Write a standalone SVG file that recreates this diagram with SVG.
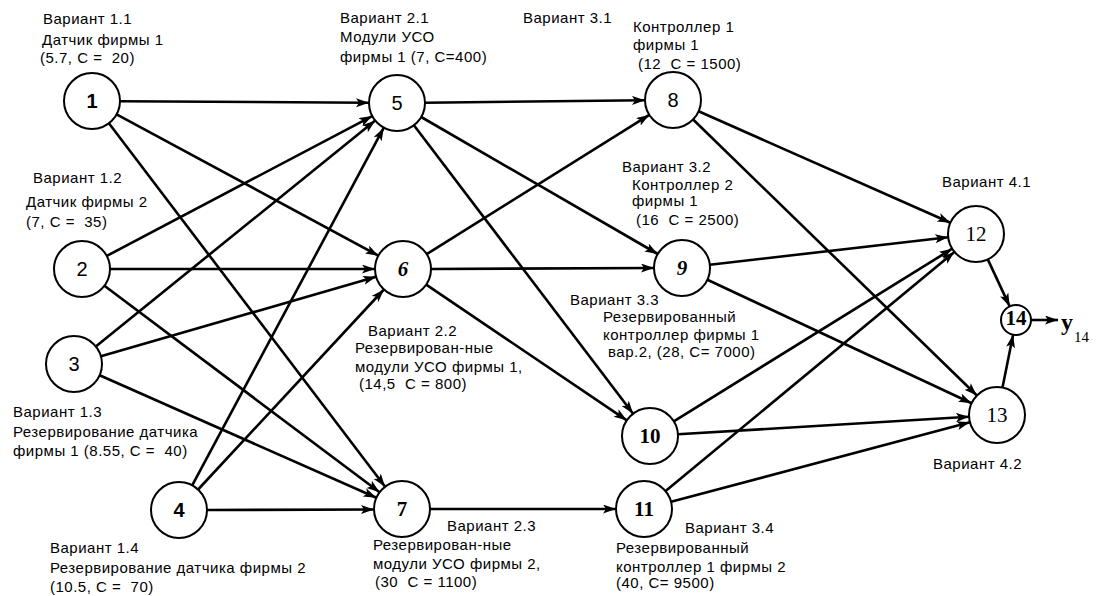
<svg xmlns="http://www.w3.org/2000/svg" width="1098" height="596" viewBox="0 0 1098 596" xml:space="preserve">
<style>
.lbl{font-family:"Liberation Sans",Arial,sans-serif;font-size:15px;letter-spacing:0.5px;fill:#000;white-space:pre}
.e{stroke:#000;stroke-width:2.6;fill:none;marker-end:url(#ah)}
.n{fill:#fff;stroke:#000;stroke-width:2}
.ns{font-family:"Liberation Sans",Arial,sans-serif;font-size:20px;fill:#000;text-anchor:middle}
.nf{font-family:"Liberation Serif","Times New Roman",serif;font-size:21px;fill:#000;text-anchor:middle}
</style>
<defs>
<marker id="ah" markerUnits="userSpaceOnUse" markerWidth="14" markerHeight="10" refX="13" refY="4.5" orient="auto">
<path d="M0,0 L13,4.5 L0,9 L3,4.5 z" fill="#000"/>
</marker>
</defs>
<rect width="1098" height="596" fill="#fff"/>
<g id="connectors">
<line class="e" x1="120" y1="101.2" x2="369" y2="102.8"/>
<line class="e" x1="116.6" y1="114.3" x2="378.4" y2="255.7"/>
<line class="e" x1="108.9" y1="123.3" x2="385.1" y2="486.7"/>
<line class="e" x1="106.8" y1="255.9" x2="372.2" y2="116.1"/>
<line class="e" x1="110" y1="269" x2="375" y2="269"/>
<line class="e" x1="104.4" y1="285.8" x2="379.6" y2="492.2"/>
<line class="e" x1="95.8" y1="346.4" x2="375.2" y2="120.6"/>
<line class="e" x1="100.9" y1="356.2" x2="376.1" y2="276.8"/>
<line class="e" x1="99.6" y1="375.3" x2="376.4" y2="497.7"/>
<line class="e" x1="192.2" y1="485.3" x2="383.8" y2="127.7"/>
<line class="e" x1="198.1" y1="489.5" x2="383.9" y2="289.5"/>
<line class="e" x1="207" y1="510" x2="374" y2="509.5"/>
<line class="e" x1="425" y1="102.7" x2="645" y2="100.3"/>
<line class="e" x1="421.2" y1="117" x2="657.8" y2="254"/>
<line class="e" x1="413.9" y1="125.3" x2="633.1" y2="413.7"/>
<line class="e" x1="426.7" y1="254.1" x2="649.3" y2="114.9"/>
<line class="e" x1="431" y1="269" x2="654" y2="268"/>
<line class="e" x1="426.2" y1="284.7" x2="626.8" y2="420.3"/>
<line class="e" x1="430" y1="509" x2="616" y2="509"/>
<line class="e" x1="698.6" y1="111.3" x2="950.4" y2="222.7"/>
<line class="e" x1="693.1" y1="119.5" x2="976.9" y2="395.5"/>
<line class="e" x1="709.8" y1="264.8" x2="948.2" y2="237.2"/>
<line class="e" x1="707.4" y1="279.8" x2="971.6" y2="403.2"/>
<line class="e" x1="673.8" y1="421.3" x2="952.2" y2="248.7"/>
<line class="e" x1="678" y1="434.3" x2="969.1" y2="416.7"/>
<line class="e" x1="665.6" y1="491.1" x2="954.4" y2="251.9"/>
<line class="e" x1="671.1" y1="501.8" x2="969.9" y2="422.2"/>
<line class="e" x1="987.8" y1="259.4" x2="1009.7" y2="306.4"/>
<line class="e" x1="1002.5" y1="387.6" x2="1013.1" y2="334.7"/>
<line class="e" x1="1031" y1="320" x2="1058" y2="320"/>
</g>
<g id="node1"><circle class="n" cx="92" cy="101" r="28"/><text class="ns" x="92" y="108" font-weight="bold">1</text></g>
<g id="node2"><circle class="n" cx="82" cy="269" r="28"/><text class="ns" x="82" y="276">2</text></g>
<g id="node3"><circle class="n" cx="74" cy="364" r="28"/><text class="ns" x="74" y="371">3</text></g>
<g id="node4"><circle class="n" cx="179" cy="510" r="28"/><text class="ns" x="179" y="517" font-weight="bold">4</text></g>
<g id="node5"><circle class="n" cx="397" cy="103" r="28"/><text class="ns" x="397" y="110">5</text></g>
<g id="node6"><circle class="n" cx="403" cy="269" r="28"/><text class="nf" x="403" y="276" font-style="italic" font-weight="bold">6</text></g>
<g id="node7"><circle class="n" cx="402" cy="509" r="28"/><text class="nf" x="402" y="516" font-weight="bold">7</text></g>
<g id="node8"><circle class="n" cx="673" cy="100" r="28"/><text class="ns" x="673" y="107">8</text></g>
<g id="node9"><circle class="n" cx="682" cy="268" r="28"/><text class="nf" x="682" y="275" font-style="italic" font-weight="bold">9</text></g>
<g id="node10"><circle class="n" cx="650" cy="436" r="28"/><text class="nf" x="650" y="443" font-weight="bold">10</text></g>
<g id="node11"><circle class="n" cx="644" cy="509" r="28"/><text class="nf" x="644" y="516" font-weight="bold">11</text></g>
<g id="node12"><circle class="n" cx="976" cy="234" r="28"/><text class="nf" x="976" y="241">12</text></g>
<g id="node13"><circle class="n" cx="997" cy="415" r="28"/><text class="nf" x="997" y="422">13</text></g>
<g id="node14"><circle class="n" cx="1016" cy="320" r="15" stroke-width="1.5"/><text class="nf" x="1016" y="325" font-size="14" font-weight="bold">14</text></g>
<g id="output"><text x="1061" y="330" font-family="Liberation Serif,serif" font-size="24" font-weight="bold">y</text><text x="1074" y="342" font-family="Liberation Serif,serif" font-size="15">14</text></g>
<g id="labels">
<text class="lbl" x="43" y="24">Вариант 1.1</text>
<text class="lbl" x="42" y="45">Датчик фирмы 1</text>
<text class="lbl" x="40" y="63">(5.7, C =  20)</text>
<text class="lbl" x="33" y="183">Вариант 1.2</text>
<text class="lbl" x="26" y="207">Датчик фирмы 2</text>
<text class="lbl" x="26" y="227">(7, C =  35)</text>
<text class="lbl" x="13" y="417">Вариант 1.3</text>
<text class="lbl" x="13" y="437">Резервирование датчика</text>
<text class="lbl" x="13" y="456">фирмы 1 (8.55, C =  40)</text>
<text class="lbl" x="50" y="553">Вариант 1.4</text>
<text class="lbl" x="50" y="573">Резервирование датчика фирмы 2</text>
<text class="lbl" x="50" y="592">(10.5, C =  70)</text>
<text class="lbl" x="340" y="23">Вариант 2.1</text>
<text class="lbl" x="340" y="42">Модули УСО</text>
<text class="lbl" x="340" y="62">фирмы 1 (7, C=400)</text>
<text class="lbl" x="368" y="336">Вариант 2.2</text>
<text class="lbl" x="355" y="353">Резервирован-ные</text>
<text class="lbl" x="355" y="372">модули УСО фирмы 1,</text>
<text class="lbl" x="359" y="389">(14,5  C = 800)</text>
<text class="lbl" x="447" y="531">Вариант 2.3</text>
<text class="lbl" x="373" y="550">Резервирован-ные</text>
<text class="lbl" x="373" y="569">модули УСО фирмы 2,</text>
<text class="lbl" x="375" y="587">(30  C = 1100)</text>
<text class="lbl" x="523" y="23">Вариант 3.1</text>
<text class="lbl" x="633" y="32">Контроллер 1</text>
<text class="lbl" x="633" y="50">фирмы 1</text>
<text class="lbl" x="638" y="69">(12  C = 1500)</text>
<text class="lbl" x="622" y="172">Вариант 3.2</text>
<text class="lbl" x="632" y="190">Контроллер 2</text>
<text class="lbl" x="632" y="206">фирмы 1</text>
<text class="lbl" x="636" y="225">(16  C = 2500)</text>
<text class="lbl" x="570" y="305">Вариант 3.3</text>
<text class="lbl" x="603" y="322">Резервированный</text>
<text class="lbl" x="603" y="340">контроллер фирмы 1</text>
<text class="lbl" x="608" y="357">вар.2, (28, C= 7000)</text>
<text class="lbl" x="685" y="533">Вариант 3.4</text>
<text class="lbl" x="616" y="553">Резервированный</text>
<text class="lbl" x="616" y="572">контроллер 1 фирмы 2</text>
<text class="lbl" x="616" y="588">(40, C= 9500)</text>
<text class="lbl" x="942" y="187">Вариант 4.1</text>
<text class="lbl" x="933" y="469">Вариант 4.2</text>
</g>
</svg>
